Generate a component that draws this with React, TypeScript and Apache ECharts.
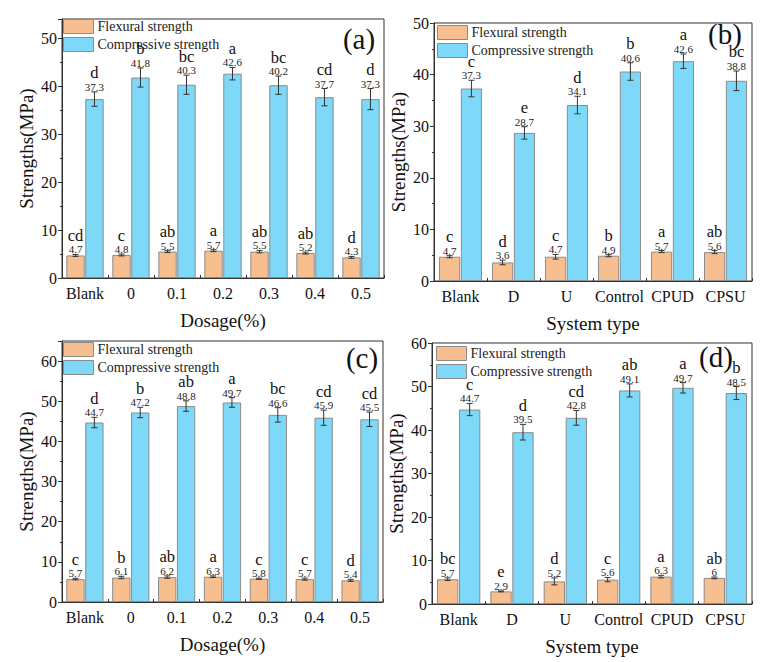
import React, { useEffect, useRef } from "react";
import * as echarts from "echarts";

const catDosage = ["Blank", "0", "0.1", "0.2", "0.3", "0.4", "0.5"];
const catSystem = ["Blank", "D", "U", "Control", "CPUD", "CPSU"];

// Panel (a)
const flexA = [4.7, 4.8, 5.5, 5.7, 5.5, 5.2, 4.3];
const flexErrA = [0.2, 0.2, 0.2, 0.2, 0.25, 0.2, 0.2];
const flexLetA = ["cd", "c", "ab", "a", "ab", "ab", "d"];
const compA = [37.3, 41.8, 40.3, 42.6, 40.2, 37.7, 37.3];
const compErrA = [1.5, 2.0, 2.0, 1.3, 1.9, 1.8, 2.2];
const compLetA = ["d", "b", "bc", "a", "bc", "cd", "d"];

// Panel (b)
const flexB = [4.7, 3.6, 4.7, 4.9, 5.7, 5.6];
const flexErrB = [0.2, 0.45, 0.45, 0.2, 0.2, 0.3];
const flexLetB = ["c", "d", "c", "b", "a", "ab"];
const compB = [37.3, 28.7, 34.1, 40.6, 42.6, 38.8];
const compErrB = [1.6, 1.2, 1.7, 1.7, 1.4, 1.9];
const compLetB = ["c", "e", "d", "b", "a", "bc"];

// Panel (c)
const flexC = [5.7, 6.1, 6.2, 6.3, 5.8, 5.7, 5.4];
const flexErrC = [0.2, 0.3, 0.3, 0.2, 0.15, 0.25, 0.25];
const flexLetC = ["c", "b", "ab", "a", "c", "c", "d"];
const compC = [44.7, 47.2, 48.8, 49.7, 46.6, 45.9, 45.5];
const compErrC = [1.3, 1.3, 1.3, 1.2, 1.8, 1.9, 1.8];
const compLetC = ["d", "b", "ab", "a", "bc", "cd", "cd"];

// Panel (d)
const flexD = [5.7, 2.9, 5.2, 5.6, 6.3, 6];
const flexErrD = [0.3, 0.1, 0.8, 0.5, 0.3, 0.2];
const flexLetD = ["bc", "e", "d", "c", "a", "ab"];
const compD = [44.7, 39.5, 42.8, 49.1, 49.7, 48.5];
const compErrD = [1.4, 1.8, 1.7, 1.5, 1.2, 1.5];
const compLetD = ["c", "d", "cd", "ab", "a", "b"];

const panelLabels = ["(a)", "(b)", "(c)", "(d)"];
const xNames = ["Dosage(%)", "System type", "Dosage(%)", "System type"];
const yName = "Strengths(MPa)";
const yMax = [54, 50, 65, 60];

const FONT = "Liberation Serif";
const ORANGE = "#F7BE8F";
const BLUE = "#7ED8F7";

export default function App() {
  const ref = useRef<HTMLDivElement>(null);
  useEffect(() => {
    if (!ref.current) return;
    const chart = echarts.init(ref.current, undefined, { renderer: "svg" });

    const panels = [
      { cats: catDosage, flex: flexA, fe: flexErrA, fl: flexLetA, comp: compA, ce: compErrA, cl: compLetA },
      { cats: catSystem, flex: flexB, fe: flexErrB, fl: flexLetB, comp: compB, ce: compErrB, cl: compLetB },
      { cats: catDosage, flex: flexC, fe: flexErrC, fl: flexLetC, comp: compC, ce: compErrC, cl: compLetC },
      { cats: catSystem, flex: flexD, fe: flexErrD, fl: flexLetD, comp: compD, ce: compErrD, cl: compLetD },
    ];

    const grids = [
      { left: 62, top: 19, width: 322, height: 259 },
      { left: 434, top: 23, width: 318, height: 258 },
      { left: 62, top: 341, width: 321, height: 261 },
      { left: 432, top: 343, width: 320, height: 261 },
    ];
    const legendPos = [
      { left: 63, top: 19 },
      { left: 437, top: 25 },
      { left: 63, top: 342 },
      { left: 436, top: 346 },
    ];
    const labelPos = [
      [359, 39],
      [725, 34],
      [362, 358],
      [716, 357],
    ];

    const series: any[] = [];
    panels.forEach((p, k) => {
      series.push({
        type: "bar",
        name: "Flexural strength",
        xAxisIndex: k,
        yAxisIndex: k,
        data: p.flex,
        barWidth: "40%",
        barGap: "3%",
        itemStyle: { color: ORANGE, borderColor: "#8c8c8c", borderWidth: 1 },
      });
      series.push({
        type: "bar",
        name: "Compressive strength",
        xAxisIndex: k,
        yAxisIndex: k,
        data: p.comp,
        barWidth: "40%",
        barGap: "3%",
        itemStyle: { color: BLUE, borderColor: "#8c8c8c", borderWidth: 1 },
      });
      const mk = (vals: number[], errs: number[], lets: string[], side: number) => ({
        type: "custom",
        xAxisIndex: k,
        yAxisIndex: k,
        z: 5,
        silent: true,
        data: vals.map((v, i) => [i, v, errs[i]]),
        encode: { x: 0, y: 1 },
        renderItem: (params: any, api: any) => {
          const i = api.value(0);
          const v = api.value(1);
          const e = api.value(2);
          const cw = api.size([1, 0])[0];
          const c = api.coord([i, v]);
          const top = api.coord([i, v + e]);
          const bot = api.coord([i, v - e]);
          const x = c[0] + side * 0.206 * cw;
          const cap = 3;
          const st = { stroke: "#333", lineWidth: 1 };
          const idx = params.dataIndex;
          return {
            type: "group",
            children: [
              { type: "line", shape: { x1: x, y1: top[1], x2: x, y2: bot[1] }, style: st },
              { type: "line", shape: { x1: x - cap, y1: top[1], x2: x + cap, y2: top[1] }, style: st },
              { type: "line", shape: { x1: x - cap, y1: bot[1], x2: x + cap, y2: bot[1] }, style: st },
              {
                type: "text",
                x: x,
                y: top[1] - 5,
                style: {
                  text: String(vals[idx]),
                  fontSize: 11,
                  fontFamily: FONT,
                  fill: "#222",
                  align: "center",
                  verticalAlign: "middle",
                },
              },
              {
                type: "text",
                x: x,
                y: top[1] - 19,
                style: {
                  text: lets[idx],
                  fontSize: 16.5,
                  fontFamily: FONT,
                  fill: "#111",
                  align: "center",
                  verticalAlign: "middle",
                },
              },
            ],
          };
        },
      });
      series.push(mk(p.flex, p.fe, p.fl, -1));
      series.push(mk(p.comp, p.ce, p.cl, 1));
    });

    const option: any = {
      animation: false,
      backgroundColor: "#fff",
      textStyle: { fontFamily: FONT },
      grid: grids.map((g) => ({ ...g, show: true, borderColor: "#333", borderWidth: 1, backgroundColor: "transparent" })),
      legend: legendPos.map((lp, k) => ({
        ...lp,
        orient: "vertical",
        itemWidth: 30,
        itemHeight: 14,
        itemGap: 3,
        padding: 0,
        icon: "rect",
        selectedMode: false,
        data: [
          { name: "Flexural strength", itemStyle: { color: ORANGE, borderColor: "#8c8c8c", borderWidth: 1 } },
          { name: "Compressive strength", itemStyle: { color: BLUE, borderColor: "#8c8c8c", borderWidth: 1 } },
        ],
        textStyle: { fontFamily: FONT, fontSize: 14, color: "#222", padding: [0, 0, 0, -1] },
      })),
      xAxis: panels.map((p, k) => ({
        type: "category",
        gridIndex: k,
        data: p.cats,
        name: xNames[k],
        nameLocation: "middle",
        nameGap: 33,
        nameTextStyle: { fontFamily: FONT, fontSize: 19, color: "#111" },
        axisLine: { lineStyle: { color: "#333", width: 1 } },
        axisTick: { show: true, inside: true, length: 3, lineStyle: { color: "#333" } },
        axisLabel: { fontFamily: FONT, fontSize: 16, color: "#111", margin: 7, interval: 0, hideOverlap: false },
        splitLine: { show: false },
      })),
      yAxis: panels.map((p, k) => ({
        type: "value",
        gridIndex: k,
        min: 0,
        max: yMax[k],
        interval: 10,
        name: yName,
        nameLocation: "middle",
        nameGap: 26,
        nameTextStyle: { fontFamily: FONT, fontSize: 19, color: "#111" },
        axisLine: { show: true, lineStyle: { color: "#333", width: 1 } },
        axisTick: { show: true, length: 4, lineStyle: { color: "#333" } },
        minorTick: { show: true, splitNumber: 2, length: 2, lineStyle: { color: "#333" } },
        axisLabel: { fontFamily: FONT, fontSize: 16, color: "#111", margin: 5, showMaxLabel: yMax[k] % 10 === 0 },
        splitLine: { show: false },
      })),
      graphic: panelLabels.map((t, k) => ({
        type: "text",
        x: labelPos[k][0],
        y: labelPos[k][1],
        z: 10,
        style: {
          text: t,
          fontSize: 29,
          fontFamily: FONT,
          fill: "#111",
          align: "center",
          verticalAlign: "middle",
        },
      })),
      series,
    };
    chart.setOption(option);
    return () => chart.dispose();
  }, []);
  return (
    <div
      ref={ref}
      style={{ position: "fixed", left: 0, top: 0, width: 767, height: 662, background: "#fff" }}
    />
  );
}
